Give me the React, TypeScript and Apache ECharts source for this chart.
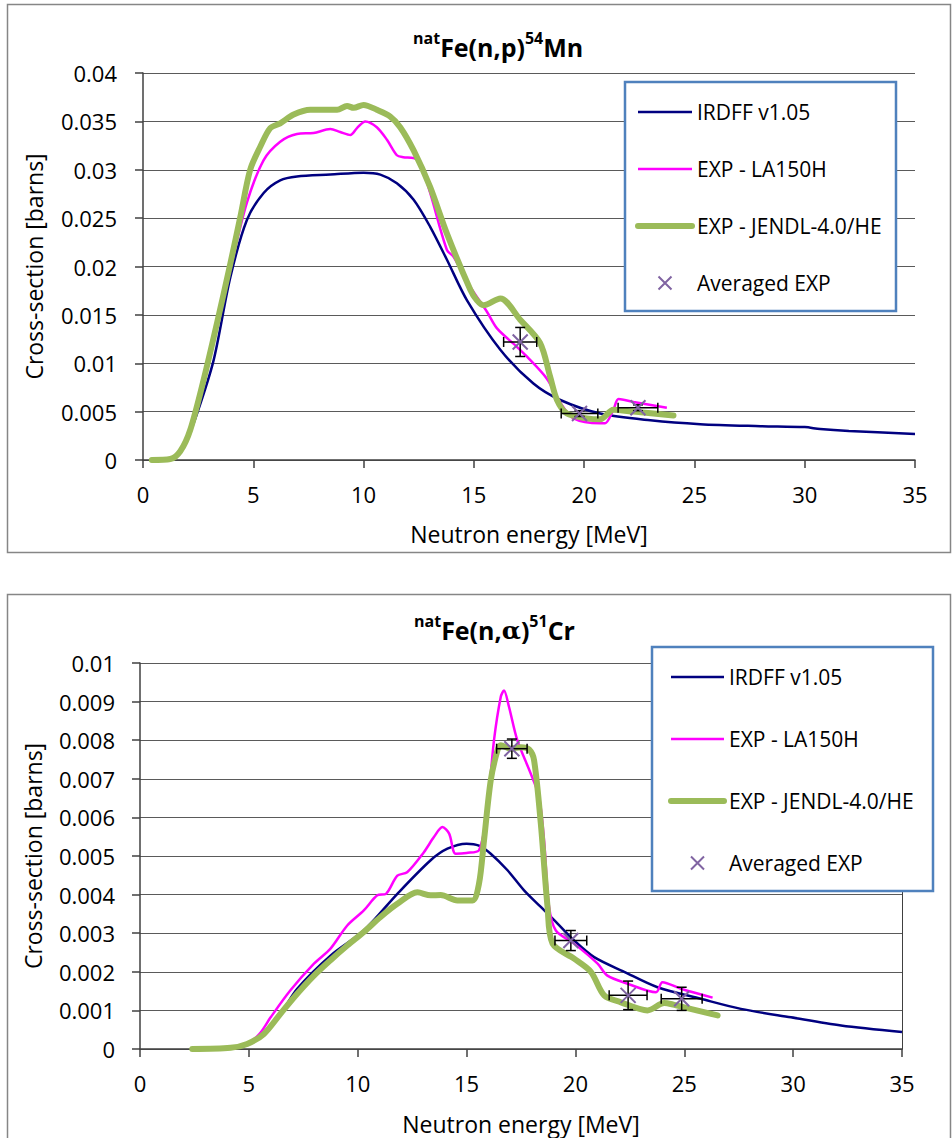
import React, { useEffect, useRef } from "react";
import * as echarts from "echarts";

const FONT = '"Open Sans", "Noto Sans", sans-serif';

// ---------- Top chart: natFe(n,p)54Mn ----------
const irdffTop: number[][] = [
  [0.5, 0], [1.0, 0.00002], [1.5, 0.0003], [2.0, 0.0022], [2.45, 0.0048], [3.2, 0.0103],
  [3.96, 0.0189], [4.71, 0.0248], [5.47, 0.0276], [6.22, 0.0289], [6.98, 0.0293],
  [8.49, 0.0295], [10.0, 0.0297], [10.76, 0.0295], [11.51, 0.0286], [12.27, 0.0269],
  [13.02, 0.0241], [13.78, 0.0207], [14.69, 0.0165], [16.2, 0.0114], [17.7, 0.0079],
  [18.92, 0.0062], [20.73, 0.0048], [23.0, 0.0041], [25.26, 0.0037], [28.0, 0.0035],
  [30.0, 0.0034], [30.7, 0.0032], [32.0, 0.003], [35.0, 0.0027],
];
const la150Top: number[][] = [
  [0.4, 0], [1.2, 0.0001], [1.7, 0.0009], [2.14, 0.003], [2.75, 0.0082], [3.35, 0.014],
  [3.96, 0.0198], [4.71, 0.0266], [5.47, 0.031], [6.22, 0.0329], [6.98, 0.0337],
  [7.73, 0.0338], [8.49, 0.0342], [8.94, 0.0339], [9.4, 0.0336], [9.7, 0.0343],
  [10.08, 0.035], [10.6, 0.0344], [11.06, 0.0331], [11.51, 0.0315], [11.8, 0.0313],
  [12.27, 0.0312], [12.57, 0.0307], [13.02, 0.0276], [13.78, 0.0217], [14.08, 0.021],
  [14.84, 0.0179], [15.6, 0.0153], [16.05, 0.0136], [16.95, 0.0117], [17.4, 0.0107],
  [18.31, 0.0084], [18.9, 0.006], [19.52, 0.0043], [20.73, 0.0038], [20.95, 0.0038],
  [21.33, 0.0052], [21.56, 0.0063], [22.24, 0.006], [23.75, 0.0054],
];
const jendlTop: number[][] = [
  [0.4, 0], [1.24, 0.0001], [1.69, 0.0009], [2.14, 0.0031], [2.75, 0.0083], [3.35, 0.0141],
  [3.96, 0.0203], [4.41, 0.0251], [4.86, 0.03], [5.32, 0.0324], [5.77, 0.0343],
  [6.22, 0.0348], [6.83, 0.0357], [7.58, 0.0362], [8.19, 0.0362], [8.8, 0.0362],
  [9.25, 0.0366], [9.55, 0.0364], [10.0, 0.0367], [10.6, 0.0362], [11.21, 0.0355],
  [11.66, 0.0344], [12.27, 0.032], [13.02, 0.0282], [13.78, 0.0234], [14.84, 0.0176],
  [15.14, 0.0165], [15.44, 0.016], [16.2, 0.0167], [17.1, 0.0145], [18.0, 0.0121],
  [18.46, 0.0086], [18.77, 0.0062], [19.22, 0.0048], [20.13, 0.0043], [20.73, 0.0042],
  [21.33, 0.0052], [22.24, 0.005], [24.05, 0.0046],
];
// [energy, xs, energy half-width, xs half-width]
const avgTop: number[][] = [
  [17.1, 0.0122, 0.75, 0.0015],
  [19.79, 0.0048, 0.83, 0.0003],
  [22.44, 0.0054, 0.9, 0.0003],
];

// ---------- Bottom chart: natFe(n,alpha)51Cr ----------
const irdffBot: number[][] = [
  [2.4, 0], [4.0, 0.00003], [5.0, 0.00015], [5.7, 0.0004], [6.45, 0.0009], [7.22, 0.00156],
  [8.75, 0.00242], [10.28, 0.00307], [11.82, 0.00402], [13.35, 0.00489], [14.12, 0.00519],
  [15.0, 0.00532], [15.57, 0.00527], [16.11, 0.00506], [16.88, 0.00463], [17.64, 0.00411],
  [18.41, 0.00368], [19.18, 0.00325], [19.94, 0.00281], [20.86, 0.00238], [22.24, 0.002],
  [23.77, 0.0016], [25.77, 0.0013], [27.6, 0.00104], [29.9, 0.00082], [32.2, 0.00061],
  [35.0, 0.00044],
];
const la150Bot: number[][] = [
  [2.4, 0], [4.16, 0.00003], [4.92, 0.00013], [5.5, 0.0004], [6.0, 0.00082], [6.91, 0.00152],
  [7.99, 0.00221], [8.75, 0.0026], [9.52, 0.0032], [10.28, 0.00359], [10.9, 0.00398],
  [11.3, 0.00402], [11.82, 0.00449], [12.27, 0.00458], [13.04, 0.0051], [13.5, 0.00549],
  [13.89, 0.00575], [14.2, 0.00558], [14.5, 0.00506], [15.0, 0.00508], [15.57, 0.00515],
  [15.96, 0.00627], [16.26, 0.008], [16.57, 0.00912], [16.72, 0.00929], [16.95, 0.00886],
  [17.33, 0.008], [17.95, 0.00713], [18.33, 0.00653], [18.56, 0.0054], [18.79, 0.00368],
  [19.1, 0.00307], [19.94, 0.00273], [21.02, 0.00221], [21.47, 0.0019], [22.4, 0.00169],
  [23.7, 0.00147], [24.0, 0.00173], [24.85, 0.00156], [26.3, 0.00133],
];
const jendlBot: number[][] = [
  [2.4, 0], [4.16, 0.00003], [4.92, 0.00013], [5.69, 0.00039], [6.45, 0.00091],
  [7.22, 0.00143], [7.99, 0.0019], [8.75, 0.0023], [9.52, 0.00268], [10.28, 0.00303],
  [11.05, 0.00342], [11.82, 0.00376], [12.74, 0.00406], [13.35, 0.00398], [13.81, 0.00399],
  [14.58, 0.00385], [15.27, 0.00385], [15.57, 0.00428], [15.8, 0.0054], [16.11, 0.00696],
  [16.42, 0.00774], [16.57, 0.00787], [17.03, 0.00778], [17.49, 0.00782], [17.87, 0.00776],
  [18.1, 0.00748], [18.41, 0.00584], [18.72, 0.00368], [18.95, 0.00273], [19.94, 0.00234],
  [20.71, 0.002], [21.32, 0.00139], [22.09, 0.00121], [23.31, 0.001], [24.08, 0.00119],
  [24.5, 0.00115], [25.0, 0.00108], [26.53, 0.00087],
];
const avgBot: number[][] = [
  [17.08, 0.00778, 0.7, 0.00025],
  [19.79, 0.00281, 0.73, 0.00026],
  [22.42, 0.00139, 0.87, 0.00037],
  [24.88, 0.0013, 0.94, 0.0003],
];

const xTicks = { min: 0, max: 35, interval: 5 };
const yTop = { min: 0, max: 0.04, interval: 0.005 };
const yBot = { min: 0, max: 0.01, interval: 0.001 };

const NAMES = ["IRDFF v1.05", "EXP - LA150H", "EXP - JENDL-4.0/HE", "Averaged EXP"];
const COLORS = { irdff: "#000080", la150: "#FF00FF", jendl: "#9BBB59", avg: "#8064A2" };
const CROSS = "path://M0,0L10,10M10,0L0,10";

function errorBarRender(params: any, api: any) {
  const x = api.value(0);
  const y = api.value(1);
  const dx = api.value(2);
  const dy = api.value(3);
  const l = api.coord([x - dx, y]);
  const r = api.coord([x + dx, y]);
  const t = api.coord([x, y + dy]);
  const b = api.coord([x, y - dy]);
  const cap = 5;
  const style = { stroke: "#000", lineWidth: 1.5 };
  return {
    type: "group",
    children: [
      { type: "line", shape: { x1: l[0], y1: l[1], x2: r[0], y2: r[1] }, style },
      { type: "line", shape: { x1: l[0], y1: l[1] - cap, x2: l[0], y2: l[1] + cap }, style },
      { type: "line", shape: { x1: r[0], y1: r[1] - cap, x2: r[0], y2: r[1] + cap }, style },
      { type: "line", shape: { x1: t[0], y1: t[1], x2: b[0], y2: b[1] }, style },
      { type: "line", shape: { x1: t[0] - cap, y1: t[1], x2: t[0] + cap, y2: t[1] }, style },
      { type: "line", shape: { x1: b[0] - cap, y1: b[1], x2: b[0] + cap, y2: b[1] }, style },
    ],
  };
}

function panelSeries(idx: number, irdff: number[][], la150: number[][], jendl: number[][], avg: number[][]) {
  const axes = { xAxisIndex: idx, yAxisIndex: idx * 2 };
  return [
    {
      type: "line", name: NAMES[0], ...axes, data: irdff, symbol: "none", smooth: 0.3,
      lineStyle: { color: COLORS.irdff, width: 2.5 }, itemStyle: { color: COLORS.irdff }, z: 2, silent: true,
    },
    {
      type: "line", name: NAMES[1], ...axes, data: la150, symbol: "none", smooth: 0.3,
      lineStyle: { color: COLORS.la150, width: 2.5 }, itemStyle: { color: COLORS.la150 }, z: 3, silent: true,
    },
    {
      type: "line", name: NAMES[2], ...axes, data: jendl, symbol: "none", smooth: 0.3,
      lineStyle: { color: COLORS.jendl, width: 6, cap: "round", join: "round" },
      itemStyle: { color: COLORS.jendl }, z: 4, silent: true,
    },
    {
      type: "custom", name: "errbar" + idx, ...axes, data: avg, renderItem: errorBarRender,
      encode: { x: 0, y: 1 }, z: 5, silent: true,
    },
    {
      type: "scatter", name: NAMES[3], ...axes, data: avg.map((d) => [d[0], d[1]]), symbol: CROSS,
      symbolSize: 15, itemStyle: { color: "transparent", borderColor: COLORS.avg, borderWidth: 2, opacity: 1 },
      z: 6, silent: true,
    },
  ];
}

const axisLineStyle = { color: "#404040", width: 1.5 };
const labelStyle = { fontFamily: FONT, fontSize: 22, color: "#000" };
const nameStyle = { fontFamily: FONT, fontSize: 23, color: "#000" };

function xAxisFor(gridIndex: number, gap: number) {
  return {
    type: "value", gridIndex, ...xTicks,
    axisLine: { show: true, onZero: false, lineStyle: axisLineStyle },
    axisTick: { show: true, length: 8, lineStyle: axisLineStyle },
    splitLine: { show: false },
    axisLabel: { ...labelStyle, margin: 23 },
    name: "Neutron energy [MeV]", nameLocation: "middle", nameGap: gap, nameTextStyle: nameStyle,
  };
}
function yAxisFor(gridIndex: number, ticks: any, margin: number, gap: number) {
  return {
    type: "value", gridIndex, ...ticks,
    axisLine: { show: true, lineStyle: axisLineStyle },
    axisTick: { show: true, length: 8, lineStyle: axisLineStyle },
    splitLine: { show: true, lineStyle: { color: "#5a5a5a", width: 1 } },
    axisLabel: { ...labelStyle, margin },
    name: "Cross-section [barns]", nameLocation: "middle", nameGap: gap, nameTextStyle: nameStyle,
  };
}
function rightBorder(gridIndex: number, show: boolean) {
  return {
    type: "value", gridIndex, position: "right", min: 0, max: 1,
    axisLine: { show, lineStyle: { color: "#404040", width: 1 } },
    axisTick: { show: false }, axisLabel: { show: false }, splitLine: { show: false },
  };
}

const noSymbol = { color: "transparent", borderColor: "transparent", borderWidth: 0, opacity: 0 };

function legendFor(left: number, top: number, gap: number, width: number) {
  return {
    left, top, orient: "vertical", itemWidth: width, itemHeight: 13, itemGap: gap, padding: 0, z: 20,
    selectedMode: false,
    textStyle: { fontFamily: FONT, fontSize: 21, color: "#000", lineHeight: 24 },
    data: [
      { name: NAMES[0], itemStyle: noSymbol, lineStyle: { width: 2.5, color: COLORS.irdff } },
      { name: NAMES[1], itemStyle: noSymbol, lineStyle: { width: 2.5, color: COLORS.la150 } },
      { name: NAMES[2], itemStyle: noSymbol, lineStyle: { width: 6, color: COLORS.jendl, cap: "round" } },
      {
        name: NAMES[3], icon: CROSS,
        itemStyle: { color: "transparent", borderColor: COLORS.avg, borderWidth: 2 },
      },
    ],
  };
}

const titleRich = {
  main: { fontFamily: FONT, fontSize: 25, fontWeight: "bold", color: "#000", lineHeight: 34 },
  sup: { fontFamily: FONT, fontSize: 16, fontWeight: "bold", color: "#000", lineHeight: 19, verticalAlign: "top" },
  greek: { fontFamily: '"DejaVu Serif", serif', fontSize: 25, color: "#000", lineHeight: 34 },
};

export default function App() {
  const ref = useRef<HTMLDivElement>(null);
  useEffect(() => {
    document.body.style.margin = "0";
    if (!ref.current) return;
    const chart = echarts.init(ref.current, undefined, { renderer: "svg" });
    chart.setOption({
      animation: false,
      backgroundColor: "#ffffff",
      title: [
        {
          text: "{sup|nat}{main|Fe(n,p)}{sup|54}{main|Mn}", left: 413, top: 30, padding: 0,
          textStyle: { rich: titleRich },
        },
        {
          text: "{sup|nat}{main|Fe(n,}{greek|α}{main|)}{sup|51}{main|Cr}", left: 414, top: 613, padding: 0,
          textStyle: { rich: titleRich },
        },
      ],
      graphic: {
        elements: [
          { type: "rect", z: 0, shape: { x: 7.5, y: 4.5, width: 943, height: 548 }, style: { fill: "none", stroke: "#868686", lineWidth: 1.5 } },
          { type: "rect", z: 0, shape: { x: 7.5, y: 594.5, width: 943, height: 560 }, style: { fill: "none", stroke: "#868686", lineWidth: 1.5 } },
          { type: "rect", z: 10, shape: { x: 625, y: 82, width: 271, height: 229 }, style: { fill: "#fff", stroke: "#4F81BD", lineWidth: 2.5 } },
          { type: "rect", z: 10, shape: { x: 652, y: 647, width: 281, height: 244 }, style: { fill: "#fff", stroke: "#4F81BD", lineWidth: 2.5 } },
        ],
      },
      legend: [legendFor(635, 100, 33, 54), legendFor(668, 665, 38, 53)],
      grid: [
        { left: 143, top: 73, width: 772, height: 387, containLabel: false },
        { left: 140, top: 663, width: 762, height: 386, containLabel: false },
      ],
      xAxis: [xAxisFor(0, 62), xAxisFor(1, 63)],
      yAxis: [
        yAxisFor(0, yTop, 26, 98), rightBorder(0, false),
        yAxisFor(1, yBot, 25, 96), rightBorder(1, true),
      ],
      series: [
        ...panelSeries(0, irdffTop, la150Top, jendlTop, avgTop),
        ...panelSeries(1, irdffBot, la150Bot, jendlBot, avgBot),
      ],
    });
    return () => chart.dispose();
  }, []);
  return <div ref={ref} style={{ width: 952, height: 1138 }} />;
}
